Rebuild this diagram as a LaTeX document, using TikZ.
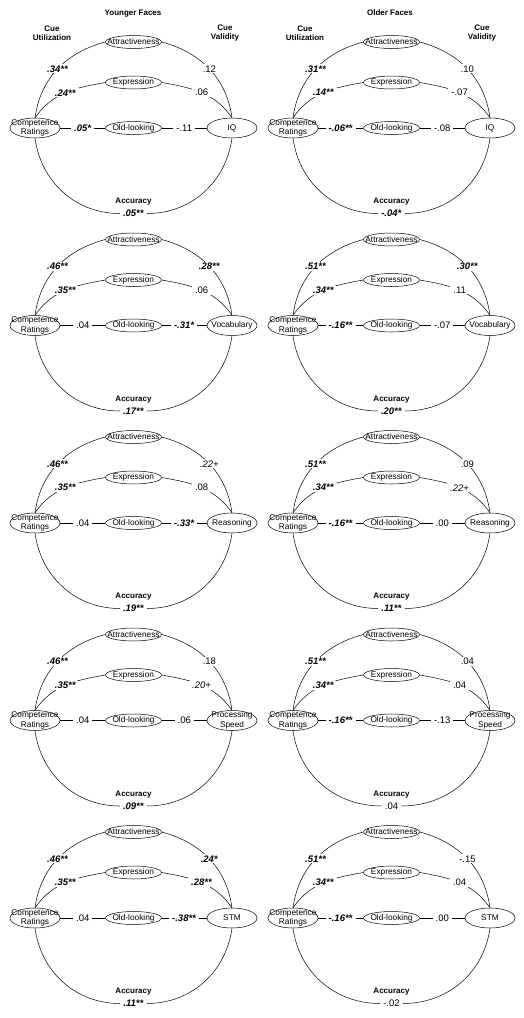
\documentclass[tikz,border=0pt]{standalone}
\usepackage{fontspec}
\setmainfont{Liberation Sans}
\usetikzlibrary{shapes.geometric}
\newcommand\sg[1]{\textbf{\textit{#1}}}
\tikzset{
 ov/.style={ellipse,draw,line width=0.5pt,minimum width=56pt,minimum height=13pt,inner sep=0pt},
 outc/.style={ellipse,draw,line width=0.5pt,minimum width=50pt,minimum height=20pt,inner sep=0pt},
 ntxt/.style={font=\fontsize{8.3}{9.5}\selectfont,align=center,inner sep=0pt},
 val/.style={font=\fontsize{9.5}{10}\selectfont,fill=white,inner xsep=3pt,inner ysep=1pt},
 hdr/.style={font=\bfseries\fontsize{8}{9}\selectfont,align=center,inner sep=0pt},
 conn/.style={line width=0.5pt},
}
\newcommand\panel[9]{%
 \node[outc,label={[ntxt]center:{Competence\\Ratings}}] (#1c) at (0,0) {};
 \node[ov,label={[ntxt]center:Attractiveness}] (#1a) at (98.5,86) {};
 \node[ov,label={[ntxt]center:Expression}] (#1e) at (98.5,45.5) {};
 \node[ov,label={[ntxt]center:Old-looking}] (#1l) at (98.5,0) {};
 \node[outc,label={[ntxt]center:{#2}}] (#1o) at (197,0) {};
 \node[hdr] (#1h) at (98.5,-74) {Accuracy};
 \node[val] (#1v) at (98.5,-85.5) {#9};
 \draw[conn] (#1c.north) to[out=82,in=195] node[val]{#3} (#1a.west);
 \draw[conn] (#1a.east) to[out=-15,in=98] node[val]{#4} (#1o.north);
 \draw[conn] (#1c.north) to[out=55,in=190] node[val]{#5} (#1e.west);
 \draw[conn] (#1e.east) to[out=-10,in=125] node[val]{#6} (#1o.north);
 \draw[conn] (#1c) -- node[val]{#7} (#1l);
 \draw[conn] (#1l) -- node[val]{#8} (#1o);
 \draw[conn] (#1c.south) to[out=-82,in=180] (#1v.west);
 \draw[conn] (#1v.east) to[out=0,in=-98] (#1o.south);
}
\begin{document}
\begin{tikzpicture}[x=1pt,y=1pt]
\useasboundingbox (0,0) rectangle (524,-1018);
\node[hdr] (ty) at (133,-14) {Younger Faces};
\node[hdr] (to) at (390,-13) {Older Faces};
\node[hdr] (cu1) at (52,-33.5) {Cue\\Utilization};
\node[hdr] (cv1) at (225,-33.5) {Cue\\Validity};
\node[hdr] (cu2) at (305,-33.5) {Cue\\Utilization};
\node[hdr] (cv2) at (482,-33.5) {Cue\\Validity};
% left column
\begin{scope}[shift={(35,-128)}]
\panel{la}{IQ}{\sg{.34**}}{.12}{\sg{.24**}}{.06}{\sg{.05*}}{-.11}{\sg{.05**}}
\end{scope}
\begin{scope}[shift={(35,-325.5)}]
\panel{lb}{Vocabulary}{\sg{.46**}}{\sg{.28**}}{\sg{.35**}}{.06}{.04}{\sg{-.31*}}{\sg{.17**}}
\end{scope}
\begin{scope}[shift={(35,-523)}]
\panel{lc}{Reasoning}{\sg{.46**}}{\textit{.22+}}{\sg{.35**}}{.08}{.04}{\sg{-.33*}}{\sg{.19**}}
\end{scope}
\begin{scope}[shift={(35,-720.5)}]
\panel{ld}{Processing\\Speed}{\sg{.46**}}{.18}{\sg{.35**}}{\textit{.20+}}{.04}{.06}{\sg{.09**}}
\end{scope}
\begin{scope}[shift={(35,-918)}]
\panel{le}{STM}{\sg{.46**}}{\sg{.24*}}{\sg{.35**}}{\sg{.28**}}{.04}{\sg{-.38**}}{\sg{.11**}}
\end{scope}
% right column
\begin{scope}[shift={(293,-128)}]
\panel{ra}{IQ}{\sg{.31**}}{.10}{\sg{.14**}}{-.07}{\sg{-.06**}}{-.08}{\sg{-.04*}}
\end{scope}
\begin{scope}[shift={(293,-325.5)}]
\panel{rb}{Vocabulary}{\sg{.51**}}{\sg{.30**}}{\sg{.34**}}{.11}{\sg{-.16**}}{-.07}{\sg{.20**}}
\end{scope}
\begin{scope}[shift={(293,-523)}]
\panel{rc}{Reasoning}{\sg{.51**}}{.09}{\sg{.34**}}{\textit{.22+}}{\sg{-.16**}}{.00}{\sg{.11**}}
\end{scope}
\begin{scope}[shift={(293,-720.5)}]
\panel{rd}{Processing\\Speed}{\sg{.51**}}{.04}{\sg{.34**}}{.04}{\sg{-.16**}}{-.13}{.04}
\end{scope}
\begin{scope}[shift={(293,-918)}]
\panel{re}{STM}{\sg{.51**}}{-.15}{\sg{.34**}}{.04}{\sg{-.16**}}{.00}{-.02}
\end{scope}
\end{tikzpicture}
\end{document}
